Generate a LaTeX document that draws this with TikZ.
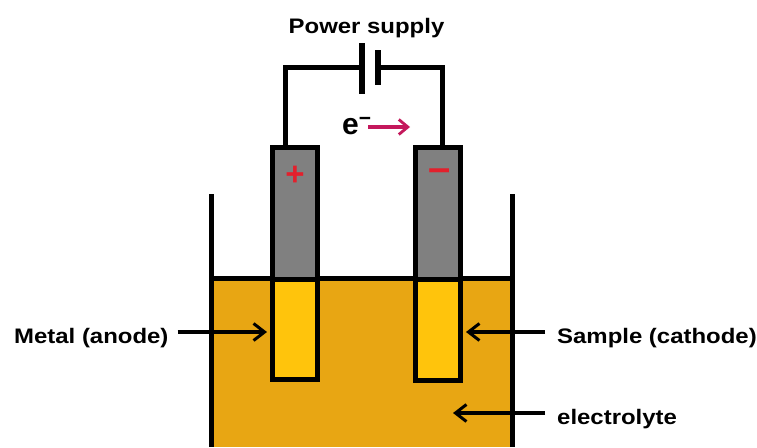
\documentclass[tikz,border=0pt]{standalone}
\usepackage{fontspec}
\setmainfont{Liberation Sans}
\newfontfamily\labelfont[FakeStretch=1.14]{Liberation Sans}
\usetikzlibrary{arrows.meta}
\definecolor{liquidcol}{HTML}{E8A613}
\definecolor{metalcol}{HTML}{FFC40C}
\definecolor{rodcol}{HTML}{808080}
\definecolor{signcol}{HTML}{E3202C}
\definecolor{flowcol}{HTML}{C4185C}

\begin{document}
\begin{tikzpicture}[x=1pt,y=-1pt,
rod/.style={rectangle,draw=black,line width=5pt,minimum width=45pt,inner sep=0pt,outer sep=0pt,fill=rodcol},
label/.style={inner sep=0pt,font=\fontsize{21}{23}\labelfont\bfseries,text height=2ex,text depth=0.5ex},
sign/.style={inner sep=0pt,text=signcol,font=\bfseries},
wire/.style={line width=5pt,line join=miter},
pointer/.style={line width=3.6pt,-{Straight Barb[length=11pt,width=17pt,line width=3pt]}}]
\useasboundingbox (0,0) rectangle (757,447);

% bath
\node (liquid) [rectangle,fill=liquidcol,minimum width=301pt,minimum height=168pt,inner sep=0pt] at (361.5,363) {};
\coordinate (wallleft) at (211,194);
\coordinate (wallright) at (512,194);
\draw[wire] (wallleft) -- (wallleft |- liquid.south);
\draw[wire] (wallright) -- (wallright |- liquid.south);
\draw[wire] (liquid.north west) -- (liquid.north east);

% electrodes
\node (anodetop) [rod,minimum height=132pt] at (294.5,213) {};
\node (anodelow) [rod,minimum height=100pt,fill=metalcol] at (294.5,329) {};
\node (cathodetop) [rod,minimum height=132pt] at (437.5,213) {};
\node (cathodelow) [rod,minimum height=101pt,fill=metalcol] at (437.5,329.5) {};
\node (plus) [sign,font=\fontsize{33}{33}\selectfont\bfseries] at (295,176) {+};
\node (minus) [sign,font=\fontsize{40}{40}\selectfont\bfseries] at (440,175) {–};

% supply
\node (longplate) [rectangle,fill=black,minimum width=6pt,minimum height=51pt,inner sep=0pt] at (362,68.5) {};
\node (shortplate) [rectangle,fill=black,minimum width=6pt,minimum height=35pt,inner sep=0pt] at (378,67.5) {};
\coordinate (cornerleft) at (285,67);
\coordinate (cornerright) at (442,67);
\draw[wire] (anodetop.north -| cornerleft) -- (cornerleft) -- (longplate.west |- cornerleft);
\draw[wire] (cathodetop.north -| cornerright) -- (cornerright) -- (shortplate.east |- cornerright);
\node (supply) [label] at (366.5,29.5) {Power supply};

% electron flow
\node (electron) [inner sep=0pt,anchor=west,font=\fontsize{30}{32}\selectfont\bfseries] at (342,126) {e\textsuperscript{−}};
\coordinate (flowend) at (410,127);
\draw[line width=3.4pt,flowcol,-{Straight Barb[length=9pt,width=15pt,line width=2.8pt]}] (368,127) -- (flowend);

% labels
\node (metal) [label,anchor=west] at (14,339.5) {Metal (anode)};
\node (sample) [label,anchor=west] at (557,339.5) {Sample (cathode)};
\node (electrolyte) [label,anchor=west] at (557,420.5) {electrolyte};
\draw[pointer] ([xshift=9pt,yshift=7.5pt]metal.east) -- ([xshift=-5pt,yshift=7.5pt]anodelow.west |- metal.east);
\draw[pointer] ([xshift=-12pt,yshift=7.5pt]sample.west) -- ([xshift=6pt,yshift=7.5pt]cathodelow.east |- sample.west);
\draw[pointer] ([xshift=-12pt,yshift=7.5pt]electrolyte.west) -- ([xshift=-7pt,yshift=7.5pt]cathodelow.east |- electrolyte.west);
\end{tikzpicture}
\end{document}
